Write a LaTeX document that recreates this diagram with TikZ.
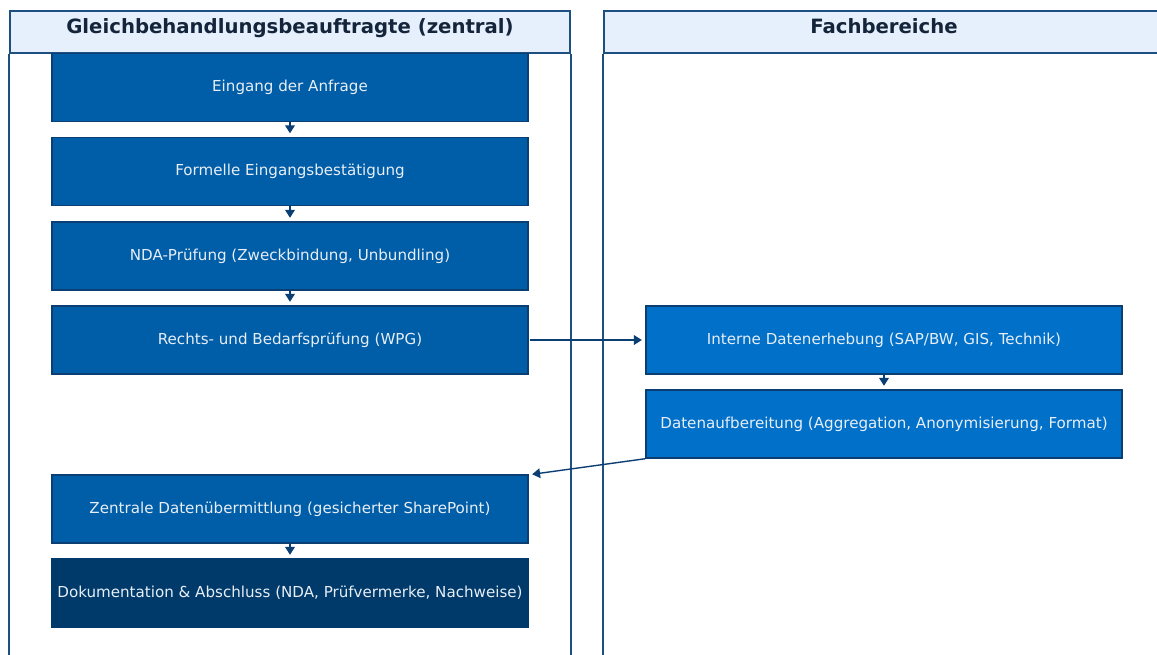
\documentclass[tikz,border=0pt]{standalone}
\usepackage{fontspec}
\setmainfont{DejaVu Sans}
\usetikzlibrary{arrows.meta}

\definecolor{lanecol}{HTML}{1D4F80}
\definecolor{headfill}{HTML}{E6F0FC}
\definecolor{headtext}{HTML}{14243A}
\definecolor{stepfill}{HTML}{005DA8}
\definecolor{deptfill}{HTML}{0070C9}
\definecolor{lastfill}{HTML}{003A6B}
\definecolor{stepline}{HTML}{0B3F73}
\definecolor{steptext}{HTML}{E8EEF5}

\tikzset{
  lanehead/.style={draw=lanecol, line width=1pt, fill=headfill,
    minimum width=11.2cm, minimum height=0.84cm, inner sep=0pt,
    text height=8.6pt, text depth=6.9pt,
    font=\fontsize{11.2}{13}\selectfont\bfseries, text=headtext},
  laneline/.style={draw=lanecol, line width=1pt},
  stepbox/.style={draw=stepline, line width=0.8pt, fill=stepfill,
    minimum width=9.52cm, minimum height=1.36cm, inner sep=0pt,
    font=\fontsize{8.6}{10}\selectfont, text=steptext},
  deptbox/.style={stepbox, fill=deptfill},
  lastbox/.style={stepbox, fill=lastfill, draw=lastfill},
  flow/.style={draw=stepline, line width=0.8pt,
    -{Triangle[width=5.5pt,length=4.5pt]}},
  shortflow/.style={flow, shorten >=2pt}
}

\begin{document}
\begin{tikzpicture}[x=0.02cm, y=-0.02cm]
      \useasboundingbox (0,0) rectangle (1157,654);
      \clip (0,0) rectangle (1157,654);

      % lanes
      \node (zentral) at (290,32) [lanehead]
      {Gleichbehandlungsbeauftragte (zentral)};

      \node (fach) at (884,32) [lanehead]
      {Fachbereiche};

      \draw[laneline] (zentral.south west) -- ++(0,700)
        (zentral.south east) -- ++(0,700);
      \draw[laneline] (fach.south west) -- ++(0,700)
        (fach.south east) -- ++(0,700);

      % steps zentral
      \node (eingang) at (290,87.5) [stepbox]
      {Eingang der Anfrage};

      \node (bestaetigung) at (290,171.5) [stepbox]
      {Formelle Eingangsbestätigung};

      \node (nda) at (290,256) [stepbox]
      {NDA-Prüfung (Zweckbindung, Unbundling)};

      \node (recht) at (290,340) [stepbox]
      {Rechts- und Bedarfsprüfung (WPG)};

      \node (uebermittlung) at (290,509) [stepbox]
      {Zentrale Datenübermittlung (gesicherter SharePoint)};

      \node (doku) at (290,593) [lastbox]
      {Dokumentation \& Abschluss (NDA, Prüfvermerke, Nachweise)};

      % steps Fachbereiche
      \node (erhebung) at (884,340) [deptbox]
      {Interne Datenerhebung (SAP/BW, GIS, Technik)};

      \node (aufbereitung) at (884,424) [deptbox]
      {Datenaufbereitung (Aggregation, Anonymisierung, Format)};

      \draw[shortflow] (eingang.south) -- (bestaetigung.north);

      \draw[shortflow] (bestaetigung.south) -- (nda.north);

      \draw[shortflow] (nda.south) -- (recht.north);

      \draw[flow] ([xshift=1pt]recht.east) -- ([xshift=-2pt]erhebung.west);

      \draw[shortflow] (erhebung.south) -- (aufbereitung.north);

      \draw[flow] (aufbereitung.south west) -- ([xshift=2pt]uebermittlung.north east);

      \draw[shortflow] (uebermittlung.south) -- (doku.north);
    \end{tikzpicture}
\end{document}
